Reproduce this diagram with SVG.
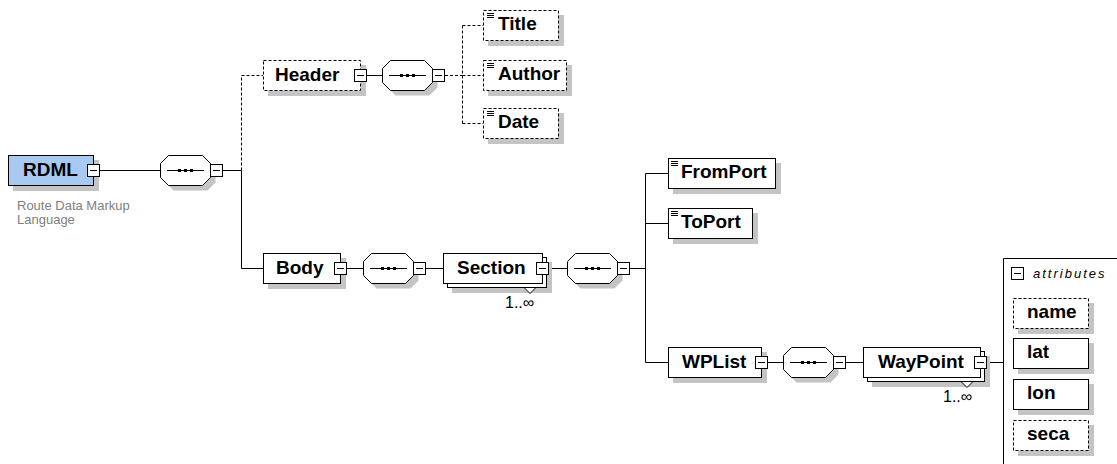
<svg xmlns="http://www.w3.org/2000/svg" xmlns:xlink="http://www.w3.org/1999/xlink" width="1117" height="464" viewBox="0 0 1117 464">
<style>
.bx{fill:#fff;stroke:#000;stroke-width:1}
.dsh{stroke-dasharray:3,2}
.sh{fill:#c4c4c4;stroke:none}
.ln{stroke:#000;stroke-width:1;fill:none}
.lbl{font-family:"Liberation Sans",Arial,sans-serif;font-weight:bold;font-size:19px;fill:#000}
.desc{font-family:"Liberation Sans",Arial,sans-serif;font-size:13px;fill:#808080}
.occ{font-family:"Liberation Sans",Arial,sans-serif;font-size:16px;fill:#000}
.att{font-family:"Liberation Sans",Arial,sans-serif;font-style:italic;font-size:13px;letter-spacing:2px;fill:#000}
</style>
<defs>
<g id="minus">
<rect x="0.5" y="0.5" width="12" height="12" class="bx"/>
<path d="M3,6.5H10" class="ln"/>
</g>
<g id="seq">
<polygon class="sh" points="13.5,5.5 47.5,5.5 55.5,13.5 55.5,27.5 47.5,35.5 13.5,35.5 5.5,27.5 5.5,13.5"/>
<polygon class="bx" points="8.5,0.5 42.5,0.5 50.5,8.5 50.5,22.5 42.5,30.5 8.5,30.5 0.5,22.5 0.5,8.5"/>
<path d="M7,15.5H44" class="ln"/>
<rect x="18" y="14" width="3" height="3" fill="#000"/>
<rect x="24" y="14" width="3" height="3" fill="#000"/>
<rect x="30" y="14" width="3" height="3" fill="#000"/>
<use xlink:href="#minus" href="#minus" x="50" y="9"/>
</g>
<path id="ico" d="M0,0.5H7M0,2.5H7M0,4.5H7" class="ln"/>
</defs>

<g id="connectors">
<path class="ln" d="M100,170.5H160M223,170.5H241.5"/>
<path class="ln dsh" d="M241.5,170.5V75.5H263"/>
<path class="ln" d="M241.5,170.5V268.5H263"/>
<path class="ln" d="M367,75.5H382"/>
<path class="ln dsh" d="M445,75.5H462.5M462.5,25.5V123.5M462.5,25.5H483M462.5,75.5H483M462.5,123.5H483"/>
<path class="ln" d="M347,268.5H363M426,268.5H443M549,268.5H567M630,268.5H645.5"/>
<path class="ln" d="M645.5,173.5V362.5M645.5,173.5H668M645.5,223.5H668M645.5,362.5H668"/>
<path class="ln" d="M768,362.5H783M846,362.5H863M987,362.5H1003.5"/>
</g>

<g id="RDML">
<rect class="sh" x="13" y="160" width="86" height="31"/>
<rect x="8.5" y="155.5" width="85" height="30" fill="#a8caf0" stroke="#000"/>
<text class="lbl" x="23" y="176">RDML</text>
<use xlink:href="#minus" href="#minus" x="87" y="164"/>
<text class="desc" x="17" y="210">Route Data Markup</text>
<text class="desc" x="17" y="224">Language</text>
</g>

<g id="seq1"><use xlink:href="#seq" href="#seq" x="160" y="155"/></g>

<g id="Header">
<rect class="sh" x="268" y="65" width="98" height="31"/>
<rect class="bx dsh" x="263.5" y="60.5" width="97" height="30"/>
<text class="lbl" x="275" y="81">Header</text>
<use xlink:href="#minus" href="#minus" x="354" y="69"/>
</g>

<g id="seq2"><use xlink:href="#seq" href="#seq" x="382" y="60"/></g>

<g id="Title">
<rect class="sh" x="488" y="15" width="76" height="31"/>
<rect class="bx dsh" x="483.5" y="10.5" width="75" height="30"/>
<use xlink:href="#ico" href="#ico" x="487" y="13"/>
<text class="lbl" x="498" y="30">Title</text>
</g>

<g id="Author">
<rect class="sh" x="488" y="65" width="84" height="31"/>
<rect class="bx dsh" x="483.5" y="60.5" width="83" height="30"/>
<use xlink:href="#ico" href="#ico" x="487" y="63"/>
<text class="lbl" x="498" y="80">Author</text>
</g>

<g id="Date">
<rect class="sh" x="488" y="113" width="76" height="31"/>
<rect class="bx dsh" x="483.5" y="108.5" width="75" height="30"/>
<use xlink:href="#ico" href="#ico" x="487" y="111"/>
<text class="lbl" x="498" y="128">Date</text>
</g>

<g id="Body">
<rect class="sh" x="268" y="258" width="78" height="31"/>
<rect class="bx" x="263.5" y="253.5" width="77" height="30"/>
<text class="lbl" x="276" y="274">Body</text>
<use xlink:href="#minus" href="#minus" x="334" y="262"/>
</g>

<g id="seq3"><use xlink:href="#seq" href="#seq" x="363" y="253"/></g>

<g id="Section">
<rect class="sh" x="452" y="262" width="100" height="31"/>
<rect class="bx" x="447.5" y="257.5" width="99" height="30"/>
<rect class="bx" x="443.5" y="253.5" width="99" height="30"/>
<text class="lbl" x="457" y="274">Section</text>
<use xlink:href="#minus" href="#minus" x="536" y="262"/>
<polygon class="bx" points="524,287.5 530,293.5 536,287.5"/>
<text class="occ" x="505" y="308">1..∞</text>
</g>

<g id="seq4"><use xlink:href="#seq" href="#seq" x="567" y="253"/></g>

<g id="FromPort">
<rect class="sh" x="673" y="163" width="108" height="31"/>
<rect class="bx" x="668.5" y="158.5" width="107" height="30"/>
<use xlink:href="#ico" href="#ico" x="671" y="161"/>
<text class="lbl" x="681" y="178">FromPort</text>
</g>

<g id="ToPort">
<rect class="sh" x="673" y="213" width="85" height="31"/>
<rect class="bx" x="668.5" y="208.5" width="84" height="30"/>
<use xlink:href="#ico" href="#ico" x="671" y="211"/>
<text class="lbl" x="681" y="228">ToPort</text>
</g>

<g id="WPList">
<rect class="sh" x="673" y="352" width="94" height="31"/>
<rect class="bx" x="668.5" y="347.5" width="93" height="30"/>
<text class="lbl" x="682" y="368">WPList</text>
<use xlink:href="#minus" href="#minus" x="755" y="356"/>
</g>

<g id="seq5"><use xlink:href="#seq" href="#seq" x="783" y="347"/></g>

<g id="WayPoint">
<rect class="sh" x="872" y="356" width="118" height="31"/>
<rect class="bx" x="867.5" y="351.5" width="117" height="30"/>
<rect class="bx" x="863.5" y="347.5" width="117" height="30"/>
<text class="lbl" x="878" y="368">WayPoint</text>
<use xlink:href="#minus" href="#minus" x="974" y="356"/>
<polygon class="bx" points="961,381.5 967,387.5 973,381.5"/>
<text class="occ" x="943" y="402">1..∞</text>
</g>

<g id="attributes">
<path class="ln" d="M1003.5,464V258.5H1117"/>
<use xlink:href="#minus" href="#minus" x="1011" y="267"/>
<text class="att" x="1033" y="278">attributes</text>
<g id="name">
<rect class="sh" x="1018" y="303" width="76" height="31"/>
<rect class="bx dsh" x="1013.5" y="298.5" width="75" height="30"/>
<text class="lbl" x="1027" y="318">name</text>
</g>
<g id="lat">
<rect class="sh" x="1018" y="343" width="76" height="31"/>
<rect class="bx" x="1013.5" y="338.5" width="75" height="30"/>
<text class="lbl" x="1027" y="358">lat</text>
</g>
<g id="lon">
<rect class="sh" x="1018" y="384" width="76" height="31"/>
<rect class="bx" x="1013.5" y="379.5" width="75" height="30"/>
<text class="lbl" x="1027" y="399">lon</text>
</g>
<g id="seca">
<rect class="sh" x="1018" y="425" width="76" height="31"/>
<rect class="bx dsh" x="1013.5" y="420.5" width="75" height="30"/>
<text class="lbl" x="1027" y="440">seca</text>
</g>
</g>
</svg>
